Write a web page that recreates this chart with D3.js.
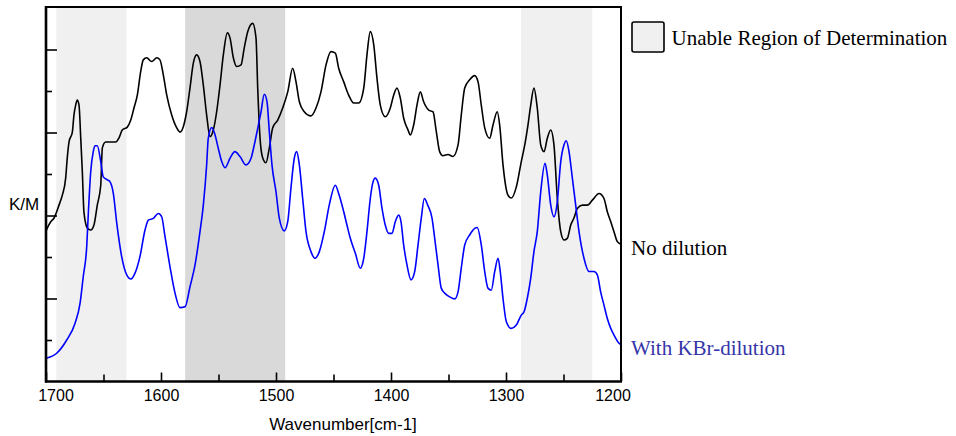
<!DOCTYPE html>
<html>
<head>
<meta charset="utf-8">
<script src="https://cdn.jsdelivr.net/npm/d3@7"></script>
<style>
  html, body { margin: 0; padding: 0; background: #fff; }
  svg { display: block; }
</style>
</head>
<body>
<svg id="chart" width="956" height="436"></svg>
<script>
// ---------- DATA ----------
const majorWavenumbers = [1700, 1600, 1500, 1400, 1300, 1200];
const minorWavenumbers = [1650, 1550, 1450, 1350, 1250];
const majorKM = [2, 4, 6, 8];
const minorKM = [1, 3, 5, 7];

// Regions that could not be determined [from, to, shade]
const regionFrom  = [1691, 1579, 1287];
const regionTo    = [1630, 1492, 1225];
const regionShade = ["light", "dark", "light"];

const seriesNames = ["No dilution", "With KBr-dilution"];
const legendLabel = "Unable Region of Determination";
const xTitle = "Wavenumber[cm-1]";
const yTitle = "K/M";

// [wavenumber, K/M]
const noDilution = [
[1700,3.63],[1695.9,3.85],[1693,3.94],[1688.7,4.25],[1685.8,4.49],[1682.9,4.90],[1681.5,5.39],[1680,5.77],
[1677.1,6.01],[1675.7,6.42],[1674.2,6.66],[1672.8,6.78],[1671.3,6.66],[1669.8,5.87],[1668.4,5.05],[1667,4.08],
[1664.1,3.70],[1661.1,3.65],[1658.3,3.77],[1655.4,4.25],[1652.4,4.73],[1651,5.63],[1648.1,5.77],[1639.4,5.77],
[1636.5,5.87],[1633.7,6.06],[1629.3,6.13],[1626.3,6.30],[1623.5,6.59],[1620.6,6.90],[1617.7,7.46],[1615.4,7.75],
[1612.4,7.80],[1608.1,7.71],[1603.7,7.80],[1600.9,7.75],[1598,7.39],[1595,6.90],[1590.7,6.42],[1586.3,6.11],
[1583.5,6.01],[1580.6,6.14],[1577.7,6.50],[1574.8,7.07],[1571.9,7.67],[1569,7.87],[1566.1,7.71],[1563.2,7.14],
[1560.3,6.42],[1557.4,5.90],[1554.5,6.06],[1551.6,6.50],[1548.7,7.14],[1545.8,7.87],[1542.3,8.40],[1540,8.28],
[1537.1,7.80],[1534.2,7.59],[1530.4,7.63],[1527.6,8.04],[1524.6,8.43],[1520.3,8.63],[1517.4,8.28],[1515.9,7.07],
[1513.9,5.87],[1511.6,5.39],[1508.7,5.27],[1505.8,5.63],[1502.9,6.11],[1498.5,6.30],[1494.2,6.59],[1489.8,6.98],
[1485.5,7.55],[1482.6,7.22],[1479.7,6.74],[1475.4,6.50],[1469.6,6.40],[1465.2,6.59],[1460.9,6.98],[1456.5,7.63],
[1452.2,7.95],[1448.4,7.91],[1445.5,7.55],[1441.1,7.22],[1436.8,6.90],[1432.4,6.71],[1428.1,6.71],[1423.7,7.07],
[1420.9,7.87],[1418,8.43],[1415,8.11],[1412.2,7.31],[1409.3,6.66],[1405,6.38],[1400.6,6.59],[1397.7,6.90],
[1394.8,7.07],[1391.9,6.83],[1389,6.35],[1385.2,6.06],[1383.2,5.94],[1380.3,6.18],[1377.4,6.66],[1374.5,6.98],
[1371.6,6.74],[1367.2,6.54],[1363.5,6.50],[1360.6,6.02],[1357.7,5.54],[1354.8,5.44],[1350.4,5.47],[1346.1,5.42],
[1341.7,5.70],[1338.9,6.42],[1335.9,7.07],[1331.6,7.27],[1327.2,7.37],[1324.3,7.22],[1321.5,6.66],[1318.5,6.11],
[1314.2,5.86],[1311.3,6.18],[1307.6,6.50],[1305.5,6.18],[1302.6,5.22],[1298.3,4.49],[1295.4,4.42],[1291,4.69],
[1286.7,5.30],[1283.7,5.70],[1280.9,6.18],[1278.5,6.66],[1275.7,7.07],[1272.8,6.59],[1269.8,5.70],[1266.9,5.54],
[1264.1,5.86],[1261.1,6.06],[1258.3,5.70],[1255.4,4.42],[1252.4,3.61],[1249.6,3.41],[1246.7,3.45],[1243.7,3.77],
[1240.9,3.94],[1238,4.17],[1233.6,4.25],[1229.3,4.25],[1224.9,4.37],[1219.1,4.53],[1214.8,4.41],[1211.9,4.09],
[1208.9,3.85],[1206.1,3.61],[1203.2,3.37],[1200,3.31]
];

const kbrDilution = [
[1700,0.56],[1690.7,0.68],[1682,1.00],[1674.8,1.40],[1670.4,1.88],[1667.6,2.53],[1664.6,3.25],[1663.2,4.05],
[1661.1,5.06],[1658.9,5.54],[1657.4,5.68],[1655.4,5.68],[1652.4,5.30],[1650.2,4.93],[1646.7,4.86],[1644.3,4.81],
[1641.5,4.54],[1638.5,3.82],[1634.2,3.01],[1629.8,2.57],[1626.1,2.47],[1622.6,2.61],[1618.3,3.01],[1613.9,3.65],
[1611,3.89],[1606.7,3.93],[1602.3,4.05],[1599.4,3.97],[1596.5,3.49],[1592.2,2.77],[1587.8,2.13],[1583.5,1.78],
[1579.1,1.80],[1574.8,2.28],[1570.4,2.81],[1566.1,3.61],[1563.2,4.25],[1560.3,5.22],[1558.9,5.86],[1555.9,6.12],
[1553,5.94],[1550.2,5.62],[1547.2,5.30],[1544.3,5.15],[1540,5.38],[1535.7,5.54],[1531.3,5.42],[1526.1,5.22],
[1521.7,5.38],[1518.9,5.70],[1515.9,6.10],[1513,6.50],[1510.2,6.92],[1507.8,6.74],[1505.8,6.02],[1503.5,5.22],
[1500,4.57],[1497.1,3.93],[1492.8,3.63],[1489.8,3.85],[1487,4.66],[1484.1,5.38],[1482,5.54],[1479.7,5.22],
[1476.8,4.41],[1473.9,3.61],[1469.6,3.13],[1466.1,2.97],[1462.3,3.13],[1458,3.61],[1453.7,4.25],[1448.4,4.73],
[1445.5,4.53],[1441.1,4.09],[1438.3,3.77],[1435.4,3.45],[1431,3.09],[1426.7,2.73],[1423.7,2.97],[1420.9,3.61],
[1418,4.41],[1415.9,4.78],[1413.7,4.90],[1410.7,4.73],[1407.8,4.17],[1405,3.77],[1402,3.57],[1399.1,3.57],
[1396.3,3.85],[1393.3,4.01],[1391.3,3.85],[1389,3.29],[1386.1,2.81],[1382.6,2.45],[1379.4,2.65],[1376.5,3.29],
[1373.7,3.93],[1371,4.41],[1368.1,4.25],[1364.3,3.93],[1362,3.45],[1359.1,2.81],[1356.3,2.25],[1353.3,2.13],
[1349,2.04],[1344.6,1.99],[1341.7,2.16],[1338.9,2.73],[1335.9,3.29],[1331.6,3.53],[1327.2,3.69],[1325,3.71],
[1321.5,3.29],[1318.5,2.65],[1315.7,2.25],[1312.8,2.20],[1309.8,2.65],[1306.9,2.97],[1305,2.65],[1302.6,2.00],
[1299.7,1.44],[1295.4,1.28],[1291,1.36],[1286.7,1.60],[1284.3,1.68],[1281.5,2.00],[1278.5,2.49],[1275.7,3.13],
[1272.8,3.61],[1269.8,4.57],[1266.1,5.26],[1264.1,4.98],[1261.1,4.25],[1258.3,3.97],[1255.4,4.33],[1252.4,5.30],
[1249.6,5.70],[1247.6,5.80],[1245.2,5.54],[1242.3,4.90],[1239.4,4.25],[1236.5,3.61],[1232.2,2.97],[1227.8,2.65],
[1223.5,2.65],[1220.6,2.57],[1217.7,2.16],[1214.8,1.84],[1211.9,1.52],[1208.9,1.28],[1206.1,1.12],[1201.7,0.92],
[1200,0.88]
];

// ---------- LAYOUT ----------
const plot = { left: 46, right: 621, top: 7, bottom: 381.5 };
const svg = d3.select("#chart");

const x = d3.scaleLinear().domain([1700, 1200]).range([plot.left, plot.right]);
const y = d3.scaleLinear().domain([0, 9]).range([plot.bottom, 8]);

// shaded regions
const shadeColor = { light: "#f0f0f0", dark: "#d9d9d9" };
svg.append("g").selectAll("rect")
  .data(regionFrom.map((f, i) => ({ from: f, to: regionTo[i], shade: regionShade[i] })))
  .join("rect")
  .attr("x", d => x(d.from))
  .attr("width", d => x(d.to) - x(d.from))
  .attr("y", plot.top)
  .attr("height", plot.bottom - plot.top)
  .attr("fill", d => shadeColor[d.shade]);

// lines
const line = d3.line()
  .x(d => x(d[0]))
  .y(d => y(d[1]))
  .curve(d3.curveMonotoneX);

svg.append("path").datum(noDilution)
  .attr("d", line).attr("fill", "none")
  .attr("stroke", "#000").attr("stroke-width", 1.6).attr("stroke-linejoin", "round");

svg.append("path").datum(kbrDilution)
  .attr("d", line).attr("fill", "none")
  .attr("stroke", "#0000ff").attr("stroke-width", 1.6).attr("stroke-linejoin", "round");

// axes
const sans = "Arial, 'Liberation Sans', sans-serif";
const serif = "'Times New Roman', 'Liberation Serif', serif";

const xMajor = svg.append("g").attr("transform", `translate(0,${plot.bottom})`)
  .call(d3.axisBottom(x).tickValues(majorWavenumbers).tickSizeInner(-9).tickSizeOuter(0).tickPadding(8).tickFormat(d3.format("d")));
const xMinor = svg.append("g").attr("transform", `translate(0,${plot.bottom})`)
  .call(d3.axisBottom(x).tickValues(minorWavenumbers).tickSizeInner(-7).tickSizeOuter(0).tickFormat(""));
const yMajor = svg.append("g").attr("transform", `translate(${plot.left},0)`)
  .call(d3.axisLeft(y).tickValues(majorKM).tickSizeInner(-11).tickSizeOuter(0).tickFormat(""));
const yMinor = svg.append("g").attr("transform", `translate(${plot.left},0)`)
  .call(d3.axisLeft(y).tickValues(minorKM).tickSizeInner(-6).tickSizeOuter(0).tickFormat(""));

[xMajor, xMinor, yMajor, yMinor].forEach(g => {
  g.select(".domain").remove();
  g.selectAll(".tick line").attr("stroke", "#000").attr("stroke-width", 1.6);
});
xMajor.selectAll(".tick text")
  .attr("font-family", sans).attr("font-size", 16).attr("fill", "#000")
  .attr("dx", d => d === 1700 ? 9.5 : (d === 1200 ? -8.5 : 0));

// frame
const frame = svg.append("g").attr("fill", "none").attr("stroke", "#000");
frame.append("line").attr("x1", plot.left).attr("x2", plot.right + 1).attr("y1", plot.top).attr("y2", plot.top).attr("stroke-width", 2);
frame.append("line").attr("x1", plot.right).attr("x2", plot.right).attr("y1", plot.top).attr("y2", plot.bottom).attr("stroke-width", 2);
frame.append("line").attr("x1", plot.left).attr("x2", plot.left).attr("y1", plot.top - 1).attr("y2", plot.bottom + 1).attr("stroke-width", 2.6);
frame.append("line").attr("x1", plot.left - 1).attr("x2", plot.right + 1).attr("y1", plot.bottom).attr("y2", plot.bottom).attr("stroke-width", 2.6);

// axis titles
svg.append("text").attr("x", 343).attr("y", 430).attr("text-anchor", "middle")
  .attr("font-family", sans).attr("font-size", 17).attr("fill", "#000").text(xTitle);
svg.append("text").attr("x", 9).attr("y", 209.5)
  .attr("font-family", sans).attr("font-size", 17).attr("fill", "#000").text(yTitle);

// legend
svg.append("rect").attr("x", 632).attr("y", 22).attr("width", 32).attr("height", 30).attr("rx", 2)
  .attr("fill", shadeColor.light).attr("stroke", "#000").attr("stroke-width", 1.6);
svg.append("text").attr("x", 671.5).attr("y", 44.5)
  .attr("font-family", serif).attr("font-size", 21).attr("fill", "#000").text(legendLabel);

// series labels at right end
svg.append("text").attr("x", 631).attr("y", 255)
  .attr("font-family", serif).attr("font-size", 21).attr("fill", "#000").text(seriesNames[0]);
svg.append("text").attr("x", 631).attr("y", 355)
  .attr("font-family", serif).attr("font-size", 21).attr("fill", "#3535a8").text(seriesNames[1]);
</script>
</body>
</html>
